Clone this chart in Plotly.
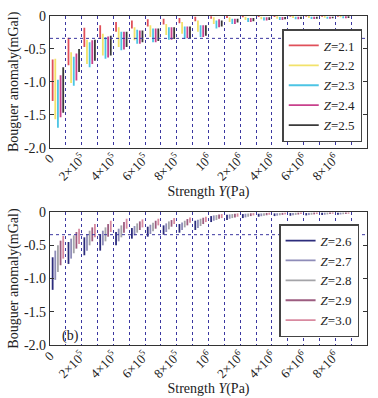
import plotly.graph_objects as go

# ---------------- data ----------------
# 19 strength groups: 1e5..9e5, 1e6..9e6 (group i occupies interval [i, i+1] on the axis)
STRENGTH_PA = [1e5, 2e5, 3e5, 4e5, 5e5, 6e5, 7e5, 8e5, 9e5,
               1e6, 2e6, 3e6, 4e6, 5e6, 6e6, 7e6, 8e6, 9e6, 1e7]
TICK_POS = [0, 2, 4, 6, 8, 10, 12, 14, 16, 18]
TICK_TEXT = ["0", "2×10<sup>5</sup>", "4×10<sup>5</sup>", "6×10<sup>5</sup>", "8×10<sup>5</sup>",
             "10<sup>6</sup>", "2×10<sup>6</sup>", "4×10<sup>6</sup>", "6×10<sup>6</sup>", "8×10<sup>6</sup>"]
Y_TICKS = [0, -0.5, -1.0, -1.5, -2.0]
Y_TICK_TEXT = ["0", "-0.5", "-1.0", "-1.5", "-2.0"]
REF_LEVEL = -0.34

Z_TOP = ["2.1", "2.2", "2.3", "2.4", "2.5"]
Z_BOT = ["2.6", "2.7", "2.8", "2.9", "3.0"]

# top panel: upper and lower ends of each anomaly range (mGal)
TOP_HIGH = {
    "2.1": [-0.66, -0.33, -0.18, -0.14, -0.09, -0.07, -0.05, -0.04, -0.03, -0.01, -0.005, 0.0, 0.0, 0.0, 0.0, 0.0, 0.0, 0.0, 0.0],
    "2.2": [-0.65, -0.55, -0.36, -0.27, -0.17, -0.17, -0.14, -0.12, -0.09, -0.07, -0.02, -0.02, -0.01, -0.01, -0.005, 0.0, 0.0, 0.0, 0.0],
    "2.3": [-0.97, -0.62, -0.40, -0.32, -0.24, -0.21, -0.19, -0.17, -0.16, -0.14, -0.07, -0.04, -0.03, -0.02, -0.015, -0.01, -0.01, -0.01, -0.005],
    "2.4": [-0.90, -0.57, -0.37, -0.31, -0.24, -0.22, -0.19, -0.17, -0.16, -0.14, -0.05, -0.04, -0.03, -0.02, -0.015, -0.01, -0.01, -0.01, -0.005],
    "2.5": [-0.78, -0.50, -0.36, -0.30, -0.24, -0.22, -0.19, -0.17, -0.16, -0.14, -0.07, -0.04, -0.03, -0.02, -0.015, -0.01, -0.01, -0.01, -0.005],
}
TOP_LOW = {
    "2.1": [-1.29, -0.75, -0.47, -0.35, -0.24, -0.19, -0.16, -0.13, -0.11, -0.08, -0.04, -0.03, -0.02, -0.015, -0.015, -0.012, -0.012, -0.01, -0.01],
    "2.2": [-1.57, -1.02, -0.73, -0.60, -0.47, -0.37, -0.32, -0.29, -0.27, -0.24, -0.12, -0.09, -0.06, -0.05, -0.04, -0.03, -0.03, -0.025, -0.02],
    "2.3": [-1.70, -1.06, -0.78, -0.65, -0.52, -0.42, -0.40, -0.36, -0.35, -0.32, -0.19, -0.12, -0.09, -0.07, -0.06, -0.05, -0.045, -0.04, -0.035],
    "2.4": [-1.54, -0.98, -0.73, -0.63, -0.51, -0.42, -0.40, -0.36, -0.34, -0.32, -0.17, -0.12, -0.09, -0.07, -0.06, -0.05, -0.045, -0.04, -0.035],
    "2.5": [-1.47, -0.85, -0.68, -0.60, -0.47, -0.40, -0.38, -0.35, -0.34, -0.30, -0.16, -0.10, -0.08, -0.06, -0.05, -0.045, -0.04, -0.035, -0.03],
}

# bottom panel
BOT_HIGH = {
    "2.6": [-0.68, -0.45, -0.38, -0.33, -0.30, -0.24, -0.22, -0.20, -0.18, -0.13, -0.06, -0.04, -0.03, -0.025, -0.02, -0.015, -0.015, -0.01, -0.01],
    "2.7": [-0.58, -0.40, -0.33, -0.28, -0.25, -0.21, -0.19, -0.17, -0.155, -0.115, -0.05, -0.035, -0.025, -0.02, -0.017, -0.013, -0.012, -0.009, -0.009],
    "2.8": [-0.50, -0.35, -0.28, -0.23, -0.20, -0.17, -0.16, -0.14, -0.13, -0.10, -0.045, -0.03, -0.022, -0.017, -0.015, -0.011, -0.01, -0.008, -0.007],
    "2.9": [-0.43, -0.30, -0.23, -0.18, -0.15, -0.14, -0.13, -0.12, -0.105, -0.085, -0.035, -0.025, -0.018, -0.013, -0.012, -0.009, -0.008, -0.006, -0.006],
    "3.0": [-0.36, -0.25, -0.18, -0.13, -0.10, -0.11, -0.10, -0.09, -0.08, -0.07, -0.03, -0.02, -0.015, -0.01, -0.01, -0.008, -0.006, -0.005, -0.005],
}
BOT_LOW = {
    "2.6": [-1.17, -0.78, -0.65, -0.58, -0.50, -0.40, -0.37, -0.34, -0.31, -0.27, -0.15, -0.12, -0.09, -0.07, -0.06, -0.055, -0.05, -0.045, -0.04],
    "2.7": [-1.02, -0.70, -0.58, -0.50, -0.44, -0.35, -0.33, -0.30, -0.27, -0.24, -0.13, -0.10, -0.08, -0.062, -0.054, -0.049, -0.045, -0.04, -0.036],
    "2.8": [-0.90, -0.62, -0.50, -0.44, -0.38, -0.31, -0.29, -0.26, -0.23, -0.21, -0.12, -0.09, -0.07, -0.055, -0.048, -0.043, -0.04, -0.035, -0.032],
    "2.9": [-0.80, -0.55, -0.44, -0.37, -0.31, -0.27, -0.25, -0.22, -0.20, -0.18, -0.10, -0.08, -0.06, -0.048, -0.042, -0.037, -0.035, -0.03, -0.028],
    "3.0": [-0.70, -0.48, -0.38, -0.30, -0.25, -0.23, -0.20, -0.18, -0.16, -0.15, -0.09, -0.07, -0.05, -0.04, -0.035, -0.03, -0.03, -0.025, -0.025],
}

# ---------------- style ----------------
TOP_COLORS = ["#e0505a", "#f2e26a", "#4cc4e4", "#c8408c", "#3a3a3a"]
BOT_COLORS = ["#2c2c7c", "#8e8cb8", "#a4a4a8", "#9c5c80", "#d88aa0"]
FONT = "Liberation Serif"
GRID_COLOR = "#3a36a0"

fig = go.Figure()


def add_panel(zs, highs, lows, colors, xaxis, yaxis, legend):
    for k, z in enumerate(zs):
        off = (k + 1) / 6.0
        xs, ys = [], []
        for i, (h, l) in enumerate(zip(highs[z], lows[z])):
            xs += [i + off, i + off, None]
            ys += [h, l, None]
        fig.add_trace(go.Scatter(
            x=xs, y=ys, mode="lines", name="<i>Z</i>=" + z,
            line=dict(color=colors[k], width=1.8),
            xaxis=xaxis, yaxis=yaxis, legend=legend, hoverinfo="skip"))


add_panel(Z_TOP, TOP_HIGH, TOP_LOW, TOP_COLORS, "x", "y", "legend")
add_panel(Z_BOT, BOT_HIGH, BOT_LOW, BOT_COLORS, "x2", "y2", "legend2")

n_groups = len(STRENGTH_PA)
grid_vals = list(range(0, n_groups + 2))
grid_text = []
for v in grid_vals:
    grid_text.append(TICK_TEXT[TICK_POS.index(v)] if v in TICK_POS else "")

xa = dict(range=[0, n_groups + 1], tickvals=grid_vals, ticktext=grid_text, tickangle=-45,
          showgrid=True, gridcolor=GRID_COLOR, griddash="dot", gridwidth=1,
          showline=True, linecolor="#333", linewidth=1.2, mirror=True, ticks="",
          ticklabelstandoff=-3, automargin=False,
          zeroline=False, tickfont=dict(family=FONT, size=13, color="#222"),
          title=dict(text="Strength <i>Y</i>(Pa)", font=dict(family=FONT, size=14, color="#222"), standoff=0))
ya = dict(range=[-2.0, 0], tickvals=Y_TICKS, ticktext=Y_TICK_TEXT, ticks="inside", ticklen=4,
          tickcolor="#333", showgrid=False, zeroline=False, showline=True, linecolor="#333",
          linewidth=1.2, mirror="allticks", tickfont=dict(family=FONT, size=14, color="#222"),
          automargin=False,
          title=dict(text="Bouguer anomaly(mGal)", font=dict(family=FONT, size=14, color="#222"), standoff=2))

leg_style = dict(xanchor="right", yanchor="bottom", bgcolor="white",
                 bordercolor="#444", borderwidth=1.5, font=dict(family=FONT, size=13, color="#222"),
                 tracegroupgap=0, itemwidth=30)

fig.update_layout(
    width=378, height=398,
    margin=dict(l=50, r=11, t=16, b=53, autoexpand=False),
    paper_bgcolor="white", plot_bgcolor="white",
    xaxis=dict(xa, domain=[0, 1], anchor="y"),
    yaxis=dict(ya, domain=[0.6, 1.0], anchor="x"),
    xaxis2=dict(xa, domain=[0, 1], anchor="y2"),
    yaxis2=dict(ya, domain=[0.0, 0.404], anchor="x2"),
    legend=dict(leg_style, x=0.985, y=0.617),
    legend2=dict(leg_style, x=0.975, y=0.024),
    showlegend=True,
)

for yref, xref in (("y", "x"), ("y2", "x2")):
    fig.add_shape(type="line", xref=xref + " domain", yref=yref, x0=0, x1=1, y0=REF_LEVEL, y1=REF_LEVEL,
                  line=dict(color=GRID_COLOR, width=1, dash="dot"), layer="above")

fig.add_annotation(x=1.3, y=-1.87, xref="x2", yref="y2", text="(b)", showarrow=False,
                   font=dict(family=FONT, size=14, color="#222"), xanchor="center", yanchor="middle")

fig.write_html("out.html", config={"displayModeBar": False},
               post_script="document.body.style.margin='0';document.body.style.overflow='hidden';")
